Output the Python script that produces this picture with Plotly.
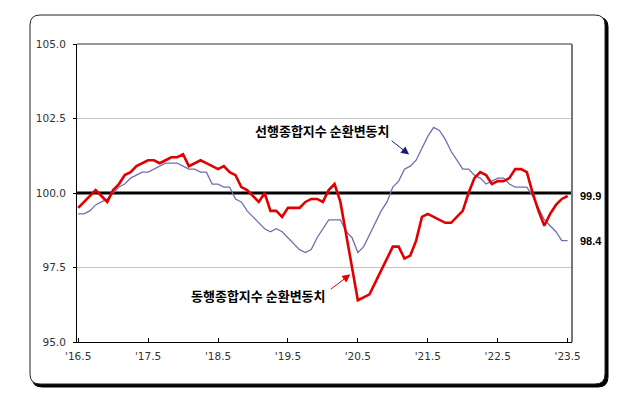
import plotly.graph_objects as go

# ---- data (monthly, May 2016 .. May 2023) ----
tick_labels = ["'16.5", "'17.5", "'18.5", "'19.5", "'20.5", "'21.5", "'22.5", "'23.5"]

coincident = [99.5, 99.7, 99.9, 100.1, 99.9, 99.7, 100.1, 100.3, 100.6, 100.7, 100.9, 101.0,
              101.1, 101.1, 101.0, 101.1, 101.2, 101.2, 101.3, 100.9, 101.0, 101.1, 101.0, 100.9,
              100.8, 100.9, 100.7, 100.6, 100.2, 100.1, 99.9, 99.7, 100.0, 99.4, 99.4, 99.2,
              99.5, 99.5, 99.5, 99.7, 99.8, 99.8, 99.7, 100.1, 100.3, 99.7, 98.6, 97.5,
              96.4, 96.5, 96.6, 97.0, 97.4, 97.8, 98.2, 98.2, 97.8, 97.9, 98.4, 99.2,
              99.3, 99.2, 99.1, 99.0, 99.0, 99.2, 99.4, 100.0, 100.5, 100.7, 100.6, 100.3,
              100.4, 100.4, 100.5, 100.8, 100.8, 100.7, 100.0, 99.4, 98.9, 99.3, 99.6, 99.8,
              99.9]

leading = [99.3, 99.3, 99.4, 99.6, 99.7, 99.8, 100.0, 100.2, 100.3, 100.5, 100.6, 100.7,
           100.7, 100.8, 100.9, 101.0, 101.0, 101.0, 100.9, 100.8, 100.8, 100.7, 100.7, 100.3,
           100.3, 100.2, 100.2, 99.8, 99.7, 99.4, 99.2, 99.0, 98.8, 98.7, 98.8, 98.7,
           98.5, 98.3, 98.1, 98.0, 98.1, 98.5, 98.8, 99.1, 99.1, 99.1, 98.7, 98.5,
           98.0, 98.2, 98.6, 99.0, 99.4, 99.7, 100.2, 100.4, 100.8, 100.9, 101.1, 101.5,
           101.9, 102.2, 102.1, 101.8, 101.4, 101.1, 100.8, 100.8, 100.6, 100.5, 100.3, 100.4,
           100.5, 100.5, 100.3, 100.2, 100.2, 100.2, 99.9, 99.5, 99.1, 98.9, 98.7, 98.4,
           98.4]

months = list(range(len(coincident)))
tick_positions = [12 * i for i in range(len(tick_labels))]
grid_levels = [97.5, 102.5]
base_level = 100

leading_name = "선행종합지수 순환변동치"
coincident_name = "동행종합지수 순환변동치"

# ---- layout geometry (pixels, in screenshot coordinates; page has 8px body margin) ----
OFF = 8
W, H = 642 - OFF, 397 - OFF
PL, PR, PT, PB = 77, 572, 44, 342          # plot box in screenshot pixels
L, R, T, B = PL - OFF, W - (PR - OFF), PT - OFF, H - (PB - OFF)
PW, PH = PR - PL, PB - PT


def px(x):
    return (x - PL) / PW


def py(y):
    return (PB - y) / PH


def rounded_rect(x0, y0, x1, y1, r):
    rx, ry = r / PW, r / PH
    X0, X1 = px(x0), px(x1)
    Y0, Y1 = py(y0), py(y1)
    return (f"M {X0+rx} {Y0} L {X1-rx} {Y0} Q {X1} {Y0} {X1} {Y0-ry} "
            f"L {X1} {Y1+ry} Q {X1} {Y1} {X1-rx} {Y1} "
            f"L {X0+rx} {Y1} Q {X0} {Y1} {X0} {Y1+ry} "
            f"L {X0} {Y0-ry} Q {X0} {Y0} {X0+rx} {Y0} Z")


fig = go.Figure()
fig.add_trace(go.Scatter(x=months, y=leading, mode="lines", name=leading_name,
                         line=dict(color="#6f6fb0", width=1.3)))
fig.add_trace(go.Scatter(x=months, y=coincident, mode="lines", name=coincident_name,
                         line=dict(color="#e00000", width=2.6)))

shapes = [
    dict(type="path", xref="paper", yref="paper", path=rounded_rect(32, 17, 608, 387, 10),
         fillcolor="black", line=dict(color="black", width=1), layer="below"),
    dict(type="path", xref="paper", yref="paper", path=rounded_rect(30, 15, 605, 384, 10),
         fillcolor="white", line=dict(color="#222", width=1), layer="below"),
]
for g in grid_levels:
    shapes.append(dict(type="line", xref="paper", yref="y", x0=0, x1=1, y0=g, y1=g,
                       line=dict(color="#c4c4c4", width=1), layer="below"))
shapes += [
    dict(type="line", xref="paper", yref="y", x0=0, x1=1, y0=base_level, y1=base_level,
         line=dict(color="black", width=3), layer="below"),
    dict(type="line", xref="paper", yref="paper", x0=0, x1=1, y0=1, y1=1,
         line=dict(color="#777", width=1.5), layer="above"),
    dict(type="line", xref="paper", yref="paper", x0=1, x1=1, y0=0, y1=1,
         line=dict(color="#777", width=2), layer="above"),
]

kfont = dict(family="Noto Sans CJK KR", size=13, color="black")
nfont = dict(family="Liberation Sans", size=11, color="black")
annotations = [
    dict(x=42.0, y=102.1, xref="x", yref="y", text="<b>" + leading_name + "</b>",
         showarrow=False, font=kfont),
    dict(x=31.0, y=96.57, xref="x", yref="y", text="<b>" + coincident_name + "</b>",
         showarrow=False, font=kfont),
    dict(x=56.8, y=101.29, xref="x", yref="y", text="", showarrow=True, ax=-19, ay=-15,
         arrowhead=2, arrowsize=1.6, arrowwidth=1, arrowcolor="#1c1c80"),
    dict(x=46.7, y=97.27, xref="x", yref="y", text="", showarrow=True, ax=-21, ay=16,
         arrowhead=2, arrowsize=1.6, arrowwidth=1, arrowcolor="#e00000"),
    dict(x=px(578), y=coincident[-1], xref="paper", yref="y", xanchor="left",
         text="<b>%.1f</b>" % coincident[-1], showarrow=False, font=nfont),
    dict(x=px(578), y=leading[-1], xref="paper", yref="y", xanchor="left",
         text="<b>%.1f</b>" % leading[-1], showarrow=False, font=nfont),
]

tfont = dict(family="DejaVu Sans", size=10.5, color="#333")
fig.update_layout(
    width=W, height=H, autosize=False,
    margin=dict(l=L, r=R, t=T, b=B, pad=0),
    paper_bgcolor="white", plot_bgcolor="rgba(0,0,0,0)",
    showlegend=False,
    shapes=shapes, annotations=annotations,
    xaxis=dict(range=[-0.2, 84.75], tickvals=tick_positions, ticktext=tick_labels,
               ticks="inside", ticklen=4, tickcolor="black", showgrid=False,
               showline=True, linecolor="black", linewidth=1, zeroline=False,
               tickfont=tfont, ticklabelstandoff=4),
    yaxis=dict(range=[95, 105], tickvals=[95, 97.5, 100, 102.5, 105],
               ticktext=["95.0", "97.5", "100.0", "102.5", "105.0"],
               ticks="outside", ticklen=3, tickcolor="black", showgrid=False,
               showline=True, linecolor="black",
               linewidth=1, zeroline=False, tickfont=tfont, ticklabelstandoff=5),
)

fig.write_html("out.html")
